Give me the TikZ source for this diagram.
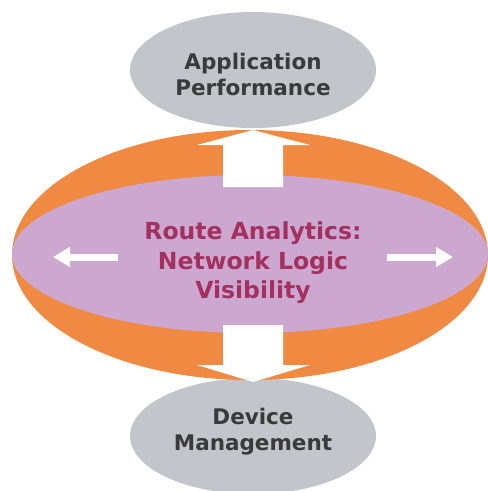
\documentclass[tikz,border=0pt]{standalone}
\usepackage{fontspec}
\setmainfont{DejaVu Sans}
\usetikzlibrary{shapes.geometric,arrows.meta}
\definecolor{orng}{HTML}{F08A42}
\definecolor{purp}{HTML}{CCA8D0}
\definecolor{gry}{HTML}{C3C5CB}
\definecolor{mag}{HTML}{A3305E}
\definecolor{dgry}{HTML}{3A3A3A}
\tikzset{
  grayell/.style={ellipse, fill=gry, draw=none, minimum width=246pt, minimum height=116pt, inner sep=0pt},
  graytext/.style={text=dgry, font=\bfseries\fontsize{21.5}{26}\selectfont, align=center},
  blockarrow/.style={fill=white, draw=none},
  smallarrow/.style={draw=white, line width=7pt, -{Triangle[width=19pt,length=17pt]}}
}
\begin{document}
\begin{tikzpicture}[x=1pt,y=-1pt]
\useasboundingbox (0,0) rectangle (488,491);
\node[grayell] (app) at (253,70) {};
\node[grayell] (dev) at (253,436) {};
\node[graytext] (appt) at (253,74) {Application\\Performance};
\node[graytext] (devt) at (253,432) {Device\\Management};
\node[ellipse, fill=orng, minimum width=476pt, minimum height=250pt, inner sep=0pt] (outer) at (250,255) {};
\node[ellipse, fill=purp, minimum width=476pt, minimum height=158pt, inner sep=0pt] (inner) at (250,254) {};
\node[text=mag, font=\bfseries\fontsize{23.5}{29.5}\selectfont, align=center] (ra) at (253,263) {Route Analytics:\\Network Logic\\Visibility};
\draw[blockarrow] (223,187) -- (223,145) -- (197,145) -- (253,130) -- (310,145) -- (283,145) -- (283,187) -- cycle;
\draw[blockarrow] (223,325) -- (223,365) -- (197,365) -- (253,382) -- (310,365) -- (283,365) -- (283,325) -- cycle;
\coordinate (l1) at (118,257);
\coordinate (l2) at (53,257);
\coordinate (r1) at (387,257);
\coordinate (r2) at (453,257);
\draw[smallarrow] (l1) -- (l2);
\draw[smallarrow] (r1) -- (r2);
\end{tikzpicture}
\end{document}
